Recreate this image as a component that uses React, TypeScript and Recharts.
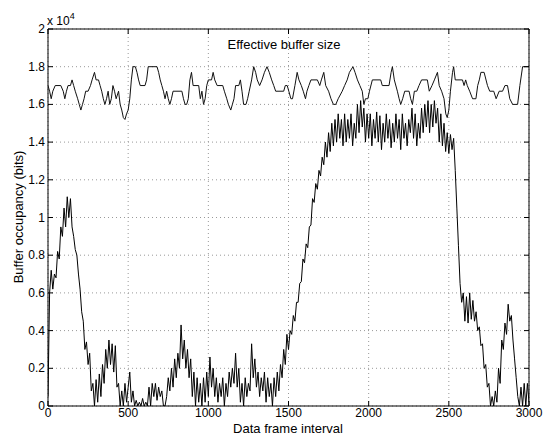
import React from "react";
import {
  LineChart,
  Line,
  XAxis,
  YAxis,
  CartesianGrid,
  ReferenceArea,
} from "recharts";

// x axis: data frame index, y axis: bits / 10^4
const xTicks = [0, 500, 1000, 1500, 2000, 2500, 3000];
const yTicks = [0, 0.2, 0.4, 0.6, 0.8, 1, 1.2, 1.4, 1.6, 1.8, 2];

// buffer occupancy, one sample every 10 frames (0..3000)
const occupancy = [
  0.05, 0.6, 0.72, 0.62, 0.7, 0.68, 0.82, 0.78, 0.95, 0.9,
  1.05, 0.95, 1.11, 1.0, 1.1, 0.95, 0.9, 0.83, 0.8, 0.7,
  0.62, 0.5, 0.45, 0.3, 0.34, 0.22, 0.28, 0.08, 0.12, 0.0,
  0.14, 0.02, 0.17, 0.05, 0.22, 0.12, 0.3, 0.2, 0.35, 0.22,
  0.33, 0.18, 0.32, 0.1, 0.12, 0.0, 0.08, 0.0, 0.12, 0.02,
  0.1, 0.18, 0.02, 0.08, 0.0, 0.03, 0.0, 0.02, 0.0, 0.04,
  0.0, 0.02, 0.0, 0.1, 0.0, 0.12, 0.05, 0.12, 0.03, 0.1,
  0.05, 0.08, 0.0, 0.0, 0.05, 0.15, 0.08, 0.2, 0.1, 0.25,
  0.15, 0.28, 0.2, 0.43, 0.25, 0.35, 0.2, 0.3, 0.15, 0.25,
  0.05, 0.18, 0.0, 0.15, 0.02, 0.12, 0.0, 0.15, 0.02, 0.18,
  0.05, 0.26, 0.1, 0.2, 0.05, 0.15, 0.02, 0.12, 0.05, 0.15,
  0.0, 0.12, 0.05, 0.18, 0.1, 0.2, 0.12, 0.28, 0.1, 0.2,
  0.02, 0.12, 0.0, 0.15, 0.05, 0.12, 0.08, 0.33, 0.15, 0.25,
  0.1, 0.18, 0.05, 0.15, 0.08, 0.18, 0.02, 0.15, 0.05, 0.12,
  0.0, 0.15, 0.05, 0.18, 0.08, 0.22, 0.15, 0.3, 0.22, 0.38,
  0.3, 0.4, 0.38, 0.48, 0.45, 0.55, 0.55, 0.65, 0.66, 0.78,
  0.76, 0.86, 0.84, 0.95, 0.96, 1.1, 1.08, 1.18, 1.15, 1.25,
  1.22, 1.32, 1.28, 1.4, 1.32, 1.45, 1.35, 1.5, 1.38, 1.52,
  1.4, 1.55, 1.42, 1.52, 1.38, 1.55, 1.4, 1.52, 1.42, 1.55,
  1.38, 1.5, 1.42, 1.6, 1.45, 1.62, 1.48, 1.58, 1.4, 1.55,
  1.42, 1.55, 1.38, 1.52, 1.42, 1.56, 1.4, 1.54, 1.36, 1.5,
  1.4, 1.55, 1.42, 1.52, 1.37, 1.5, 1.4, 1.55, 1.42, 1.52,
  1.36, 1.55, 1.42, 1.5, 1.38, 1.52, 1.45, 1.58, 1.42, 1.55,
  1.38, 1.5, 1.42, 1.58, 1.45, 1.6, 1.48, 1.62, 1.45, 1.6,
  1.48, 1.62, 1.5, 1.58, 1.4, 1.55, 1.38, 1.5, 1.35, 1.45,
  1.34, 1.44, 1.36, 1.42, 1.25, 1.05, 0.85, 0.65, 0.55, 0.6,
  0.45, 0.58, 0.44, 0.6, 0.46, 0.56, 0.45, 0.5, 0.4, 0.42,
  0.32, 0.33, 0.2, 0.22, 0.1, 0.12, 0.0, 0.05, 0.0, 0.08,
  0.02, 0.2, 0.12, 0.35, 0.3, 0.44, 0.38, 0.54, 0.45, 0.48,
  0.35, 0.25, 0.15, 0.05, 0.0, 0.1, 0.0, 0.12, 0.0, 0.12,
  0.02,
];

// effective buffer size, breakpoints (frame, value)
const bufFrames = [
  0, 10, 20, 30, 45, 80, 95, 105, 115, 125, 140, 150, 160, 170, 185, 195, 205, 215, 225, 235,
  250, 265, 275, 290, 300, 315, 325, 335, 345, 355, 365, 375, 385, 395, 405, 415, 425, 440, 450, 460,
  470, 480, 490, 500, 510, 520, 530, 545, 555, 565, 575, 605, 615, 625, 680, 690, 700, 710, 720, 730,
  740, 750, 760, 770, 780, 835, 845, 855, 865, 875, 885, 895, 905, 940, 950, 960, 970, 980, 990, 1000,
  1020, 1030, 1040, 1055, 1090, 1100, 1115, 1125, 1140, 1150, 1160, 1170, 1190, 1200, 1210, 1220, 1235, 1245, 1255, 1270,
  1283, 1295, 1305, 1320, 1335, 1350, 1366, 1380, 1395, 1408, 1420, 1470, 1480, 1492, 1502, 1515, 1525, 1540, 1554, 1565,
  1580, 1592, 1606, 1615, 1627, 1640, 1680, 1695, 1705, 1720, 1732, 1750, 1765, 1780, 1795, 1810, 1835, 1850, 1866, 1880,
  1902, 1915, 1930, 1945, 1960, 1970, 1980, 1995, 2005, 2023, 2075, 2085, 2127, 2140, 2148, 2160, 2179, 2190, 2200, 2212,
  2225, 2252, 2262, 2273, 2285, 2300, 2314, 2330, 2366, 2378, 2395, 2410, 2429, 2440, 2455, 2470, 2481, 2490, 2500, 2510,
  2523, 2530, 2540, 2585, 2595, 2605, 2615, 2630, 2648, 2669, 2680, 2690, 2700, 2720, 2741, 2755, 2780, 2795, 2814, 2835,
  2850, 2866, 2880, 2898, 2929, 2943, 2960, 3000,
];
const bufSize = [
  1.7, 1.67, 1.63, 1.67, 1.7, 1.7, 1.67, 1.63, 1.67, 1.7, 1.7, 1.73, 1.7, 1.67, 1.63, 1.6, 1.57, 1.6, 1.63, 1.67,
  1.67, 1.7, 1.73, 1.77, 1.73, 1.73, 1.7, 1.67, 1.63, 1.6, 1.63, 1.67, 1.6, 1.63, 1.7, 1.67, 1.63, 1.67, 1.6, 1.57,
  1.53, 1.52, 1.55, 1.57, 1.63, 1.73, 1.8, 1.8, 1.77, 1.73, 1.7, 1.7, 1.73, 1.8, 1.8, 1.77, 1.73, 1.7, 1.67, 1.63,
  1.67, 1.63, 1.6, 1.63, 1.67, 1.67, 1.63, 1.6, 1.6, 1.63, 1.73, 1.77, 1.7, 1.7, 1.63, 1.67, 1.6, 1.63, 1.7, 1.73,
  1.73, 1.77, 1.73, 1.7, 1.7, 1.67, 1.63, 1.6, 1.57, 1.6, 1.63, 1.7, 1.7, 1.73, 1.67, 1.6, 1.6, 1.63, 1.67, 1.73,
  1.8, 1.77, 1.73, 1.7, 1.73, 1.77, 1.8, 1.77, 1.73, 1.7, 1.67, 1.67, 1.7, 1.7, 1.67, 1.63, 1.63, 1.7, 1.77, 1.73,
  1.7, 1.67, 1.63, 1.67, 1.7, 1.73, 1.73, 1.7, 1.73, 1.77, 1.7, 1.67, 1.63, 1.6, 1.6, 1.63, 1.67, 1.7, 1.73, 1.77,
  1.8, 1.77, 1.73, 1.7, 1.67, 1.6, 1.63, 1.63, 1.67, 1.73, 1.73, 1.7, 1.7, 1.77, 1.8, 1.73, 1.67, 1.63, 1.6, 1.63,
  1.67, 1.67, 1.63, 1.6, 1.67, 1.67, 1.7, 1.73, 1.73, 1.67, 1.7, 1.73, 1.77, 1.7, 1.67, 1.63, 1.55, 1.53, 1.57, 1.67,
  1.77, 1.8, 1.73, 1.73, 1.7, 1.73, 1.7, 1.67, 1.63, 1.63, 1.7, 1.73, 1.77, 1.77, 1.7, 1.67, 1.67, 1.63, 1.67, 1.67,
  1.7, 1.7, 1.63, 1.6, 1.6, 1.7, 1.8, 1.8,
];

const occData = occupancy.map((v, i) => ({ f: i * 10, v }));
const bufData = bufFrames.map((f, i) => ({ f, v: bufSize[i] }));

const FONT = "'Liberation Sans', Arial, Helvetica, sans-serif";
const PLOT_W = 481;
const PLOT_H = 377;

function XTick({ x, y, payload }: any) {
  return (
    <g>
      <line x1={x} x2={x} y1={y} y2={y - 5} stroke="#000" />
      <line x1={x} x2={x} y1={y - PLOT_H} y2={y - PLOT_H + 5} stroke="#000" />
      <text x={x} y={y + 11} textAnchor="middle" fontSize={12} fontFamily={FONT} fill="#000">
        {payload.value}
      </text>
    </g>
  );
}

function YTick({ x, y, payload }: any) {
  return (
    <g>
      <line x1={x} x2={x + 5} y1={y} y2={y} stroke="#000" />
      <line x1={x + PLOT_W} x2={x + PLOT_W - 5} y1={y} y2={y} stroke="#000" />
      <text x={x - 3} y={y + 4} textAnchor="end" fontSize={12} fontFamily={FONT} fill="#000">
        {String(payload.value)}
      </text>
    </g>
  );
}

export default function App() {
  return (
    <div
      style={{
        position: "absolute",
        left: 0,
        top: 0,
        width: 545,
        height: 436,
        background: "#fff",
        fontFamily: FONT,
      }}
    >
      <LineChart
        width={545}
        height={436}
        margin={{ top: 29, right: 16, bottom: 0, left: 0 }}
      >
        <CartesianGrid stroke="#999" strokeDasharray="1 3" />
        <XAxis
          type="number"
          dataKey="f"
          domain={[0, 3000]}
          ticks={xTicks}
          interval={0}
          height={30}
          tickSize={0}
          tickMargin={0}
          tickLine={false}
          axisLine={false}
          tick={<XTick />}
          allowDataOverflow
        />
        <YAxis
          type="number"
          domain={[0, 2]}
          ticks={yTicks}
          interval={0}
          width={48}
          tickSize={0}
          tickMargin={0}
          tickLine={false}
          axisLine={false}
          tick={<YTick />}
          allowDataOverflow
        />
        <ReferenceArea x1={0} x2={3000} y1={0} y2={2} fill="none" stroke="#000" strokeWidth={1} />
        <Line
          data={bufData}
          dataKey="v"
          type="linear"
          stroke="#111"
          strokeWidth={1}
          dot={false}
          isAnimationActive={false}
        />
        <Line
          data={occData}
          dataKey="v"
          type="linear"
          stroke="#000"
          strokeWidth={1}
          dot={false}
          isAnimationActive={false}
        />
      </LineChart>
      <div style={{ position: "absolute", left: 47, top: 10, fontSize: 12, lineHeight: "14px", whiteSpace: "nowrap" }}>
        x 10<sup style={{ fontSize: 9, position: "relative", top: -1 }}>4</sup>
      </div>
      <div
        style={{
          position: "absolute",
          left: 184,
          width: 200,
          top: 37,
          fontSize: 13,
          lineHeight: "15px",
          textAlign: "center",
        }}
      >
        Effective buffer size
      </div>
      <div
        style={{
          position: "absolute",
          left: 188,
          width: 200,
          top: 422,
          fontSize: 13,
          lineHeight: "13px",
          textAlign: "center",
        }}
      >
        Data frame interval
      </div>
      <div
        style={{
          position: "absolute",
          left: 18,
          top: 217,
          fontSize: 13,
          lineHeight: "15px",
          whiteSpace: "nowrap",
          transform: "translate(-50%, -50%) rotate(-90deg)",
        }}
      >
        Buffer occupancy (bits)
      </div>
    </div>
  );
}
